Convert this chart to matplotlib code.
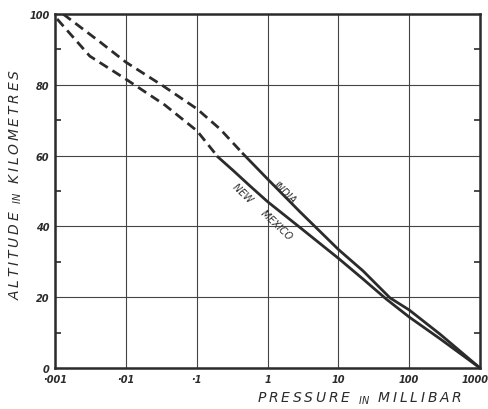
import matplotlib.pyplot as plt
from matplotlib.ticker import FixedLocator, NullLocator
from matplotlib.transforms import ScaledTranslation

# values (pressure in millibar, altitude in km)
india_dash_p = [0.0013, 0.00432, 0.01, 0.0335, 0.101, 0.214, 0.452]
india_dash_h = [100, 92.1, 86.4, 79.7, 73.2, 67.5, 60.5]
india_p = [0.452, 1.0, 2.88, 10, 22.4, 53.7, 100, 275, 1000]
india_h = [60.5, 53.4, 44.1, 33.5, 27.4, 19.8, 16.4, 9.5, 0]

nm_dash_p = [0.00107, 0.0031, 0.01, 0.0355, 0.101, 0.20]
nm_dash_h = [98.6, 88.1, 81.6, 74.3, 67.0, 59.6]
nm_p = [0.20, 0.327, 0.568, 1.0, 2.75, 10, 22.4, 47.3, 100, 275, 1000]
nm_h = [59.6, 55.8, 51.4, 47.0, 40.0, 31.0, 25.1, 19.5, 14.4, 8.2, 0]

xticks = [0.001, 0.01, 0.1, 1, 10, 100, 1000]
xlabels = ["·001", "·01", "·1", "1", "10", "100", "1000"]
yticks = [0, 20, 40, 60, 80, 100]

ink = "#2b2b2b"
plt.rcParams['font.family'] = ['DejaVu Sans']

fig = plt.figure(figsize=(4.89, 4.10), dpi=100)
ax = fig.add_axes([0.1125, 0.1, 0.8691, 0.8634])

ax.plot(india_dash_p, india_dash_h, color=ink, lw=2, dashes=(3.5, 2))
ax.plot(india_p, india_h, color=ink, lw=2)
ax.plot(nm_dash_p, nm_dash_h, color=ink, lw=2, dashes=(3.5, 2))
ax.plot(nm_p, nm_h, color=ink, lw=2)

ax.set_xscale('log')
ax.set_xlim(0.001, 1000)
ax.set_ylim(0, 100)
ax.xaxis.set_major_locator(FixedLocator(xticks))
ax.xaxis.set_minor_locator(NullLocator())
ax.set_xticklabels(xlabels, fontsize=7, style='italic', fontweight='bold', color=ink)
ax.set_yticks(yticks)
ax.set_yticklabels([str(v) for v in yticks], fontsize=7, style='italic', fontweight='bold', color=ink)
ax.yaxis.set_minor_locator(FixedLocator([10, 30, 50, 70, 90]))
ax.tick_params(axis='both', which='major', length=0, pad=4)
ax.tick_params(axis='y', which='minor', direction='in', length=4, width=1.2,
               left=True, right=True, color=ink)
ax.grid(True, which='major', color="#444444", lw=0.8)
for s in ax.spines.values():
    s.set_linewidth(1.8)
    s.set_color(ink)

# keep the last tick label inside the picture
last = ax.get_xticklabels()[-1]
last.set_transform(last.get_transform() + ScaledTranslation(-5 / 100, 0, fig.dpi_scale_trans))

ax.text(1.77, 49.7, "INDIA", rotation=-43, fontsize=7, style='italic', color=ink,
        ha='center', va='center')
ax.text(0.84, 44.3, "NEW     MEXICO", rotation=-43, fontsize=7, style='italic', color=ink,
        ha='center', va='center')

sp = "\u2009"
fig.text(0.736, 0.008, sp.join("PRESSURE") + "  $_{IN}$  " + sp.join("MILLIBAR"),
         fontsize=10, style='italic', color=ink, ha='center', va='bottom')
fig.text(0.033, 0.549, sp.join("ALTITUDE") + "  $_{IN}$  " + sp.join("KILOMETRES"),
         fontsize=10, style='italic', color=ink, rotation=90, va='center', ha='center')

fig.savefig("out.png", dpi=100)
